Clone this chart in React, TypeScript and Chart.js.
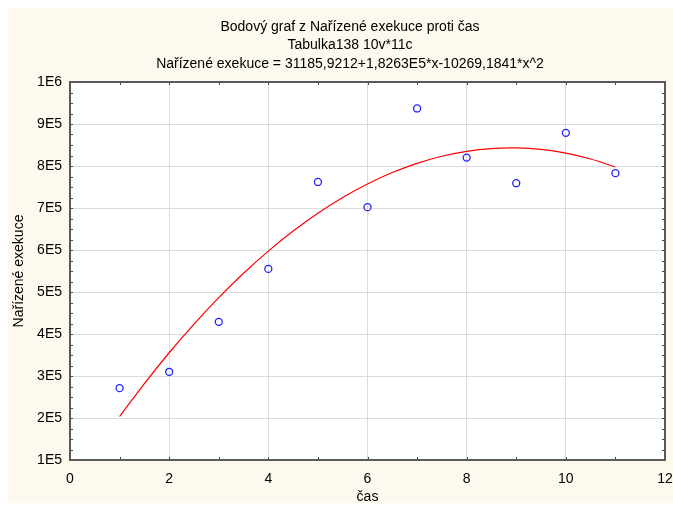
import React, { useEffect, useRef } from "react";
import { Chart, registerables } from "chart.js";

Chart.register(...registerables);

const titleLines = [
  "Bodový graf z Nařízené exekuce proti čas",
  "Tabulka138 10v*11c",
  "Nařízené exekuce = 31185,9212+1,8263E5*x-10269,1841*x^2",
];
const xTitle = "čas";
const yTitle = "Nařízené exekuce";

const casValues = [1, 2, 3, 4, 5, 6, 7, 8, 9, 10, 11];
const exekuceValues = [271000, 310000, 429000, 555000, 762000, 702000, 937000, 820000, 759000, 879000, 783000];

const fitX = [1, 1.5, 2, 2.5, 3, 3.5, 4, 4.5, 5, 5.5, 6, 6.5, 7, 7.5, 8, 8.5, 9, 9.5, 10, 10.5, 11];
const fitY = [
  203547, 282025, 355369, 423579, 486653, 544593, 597399, 645070, 687606, 725008, 757275,
  784408, 806406, 823269, 834998, 841592, 843052, 839377, 830568, 816624, 797545,
];

const yTickLabels: Record<number, string> = {
  100000: "1E5", 200000: "2E5", 300000: "3E5", 400000: "4E5", 500000: "5E5",
  600000: "6E5", 700000: "7E5", 800000: "8E5", 900000: "9E5", 1000000: "1E6",
};

const FONT = "'Liberation Sans', Arial, sans-serif";
const CREAM = "#fef9ee";

const decorPlugin = {
  id: "decor",
  beforeDraw(chart: any) {
    const { ctx, width, height, chartArea } = chart;
    ctx.save();
    ctx.fillStyle = CREAM;
    ctx.fillRect(0, 0, width, height);
    ctx.fillStyle = "#ffffff";
    ctx.fillRect(chartArea.left, chartArea.top, chartArea.right - chartArea.left, chartArea.bottom - chartArea.top);
    ctx.restore();
  },
  afterDraw(chart: any) {
    const { ctx, chartArea } = chart;
    const { left, right, top, bottom } = chartArea;
    const xs = chart.scales.x;
    const ys = chart.scales.y;
    ctx.save();
    ctx.strokeStyle = "#444";
    ctx.lineWidth = 1;
    ctx.beginPath();
    for (let v = 0; v <= 12; v += 1) {
      const px = Math.round(xs.getPixelForValue(v)) + 0.5;
      ctx.moveTo(px, bottom);
      ctx.lineTo(px, bottom - 3);
      ctx.moveTo(px, top);
      ctx.lineTo(px, top + 3);
    }
    for (let v = 100000; v <= 1000000; v += 25000) {
      const py = Math.round(ys.getPixelForValue(v)) + 0.5;
      ctx.moveTo(left, py);
      ctx.lineTo(left + 3, py);
      ctx.moveTo(right, py);
      ctx.lineTo(right - 3, py);
    }
    ctx.stroke();
    ctx.strokeStyle = "#5a5a5a";
    ctx.lineWidth = 2;
    ctx.strokeRect(left, top, right - left, bottom - top);
    ctx.fillStyle = "#000";
    ctx.font = `14px ${FONT}`;
    ctx.textAlign = "center";
    ctx.textBaseline = "middle";
    const cx = 342;
    titleLines.forEach((t, i) => ctx.fillText(t, cx, 19 + i * 18.5));
    ctx.fillText(xTitle, (left + right) / 2, 489);
    ctx.translate(11, (top + bottom) / 2);
    ctx.rotate(-Math.PI / 2);
    ctx.fillText(yTitle, 0, 0);
    ctx.restore();
  },
};

export default function App() {
  const ref = useRef<HTMLCanvasElement>(null);
  useEffect(() => {
    if (!ref.current) return;
    const chart = new Chart(ref.current, {
      type: "scatter",
      data: {
        datasets: [
          {
            type: "line",
            data: fitX.map((x, i) => ({ x, y: fitY[i] })),
            borderColor: "#ff0000",
            borderWidth: 1.2,
            pointRadius: 0,
            tension: 0.3,
            fill: false,
          } as any,
          {
            type: "scatter",
            data: casValues.map((x, i) => ({ x, y: exekuceValues[i] })),
            borderColor: "#2020ff",
            backgroundColor: "rgba(0,0,0,0)",
            borderWidth: 1.3,
            pointRadius: 3.5,
            pointStyle: "circle",
          },
        ],
      },
      options: {
        responsive: false,
        animation: false,
        layout: { padding: { top: 74, right: 8, left: 0, bottom: 0 } },
        plugins: { legend: { display: false }, tooltip: { enabled: false }, title: { display: false } },
        scales: {
          x: {
            type: "linear",
            min: 0,
            max: 12,
            afterFit: (s: any) => { s.height = 43; s.paddingRight = 0; s.paddingLeft = 0; },
            ticks: {
              stepSize: 2,
              padding: 11,
              color: "#000",
              font: { family: FONT, size: 14 },
              maxRotation: 0,
            },
            grid: { color: "#dcdcdc", drawTicks: false, lineWidth: 1 },
            border: { display: false },
          },
          y: {
            type: "linear",
            min: 100000,
            max: 1000000,
            afterFit: (s: any) => { s.width = 62; s.paddingTop = 0; s.paddingBottom = 0; },
            ticks: {
              stepSize: 100000,
              padding: 8,
              color: "#000",
              font: { family: FONT, size: 14 },
              callback: (v: any) => yTickLabels[Math.round(Number(v))] ?? "",
            },
            grid: { color: "#dcdcdc", drawTicks: false, lineWidth: 1 },
            border: { display: false },
          },
        },
      } as any,
      plugins: [decorPlugin],
    });
    return () => chart.destroy();
  }, []);
  return (
    <div style={{ position: "fixed", left: 8, top: 8, width: 665, height: 495 }}>
      <canvas ref={ref} width={665} height={495} style={{ display: "block", width: 665, height: 495 }} />
    </div>
  );
}
